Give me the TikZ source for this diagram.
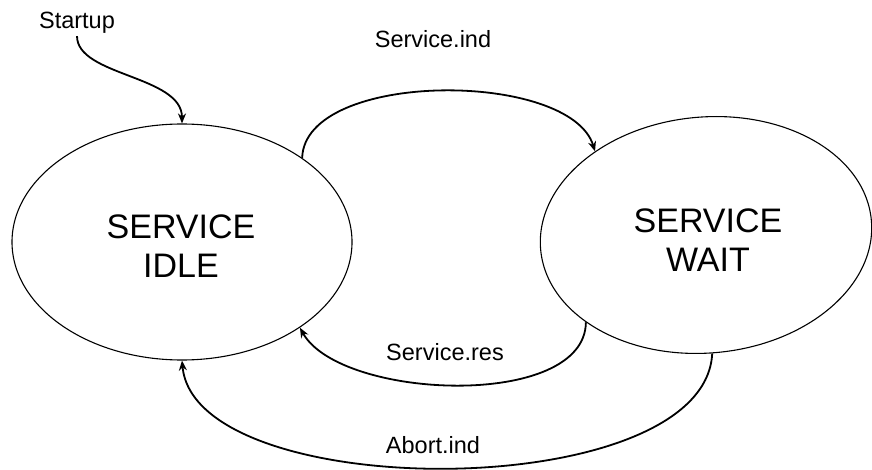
\documentclass[tikz,border=0pt]{standalone}
\usepackage{fontspec}
\setmainfont{Liberation Sans}
\usetikzlibrary{shapes.geometric,arrows.meta}
\begin{document}
\begin{tikzpicture}[x=1pt,y=-1pt,
  state/.style={draw, line width=1.1pt, ellipse, inner sep=0pt},
  statetext/.style={font=\fontsize{34}{39}\selectfont, align=center, inner sep=0pt},
  evlabel/.style={font=\fontsize{23.5}{28}\selectfont, inner sep=2pt},
  conn/.style={line width=1.8pt, -{Stealth[length=10pt,width=8pt]}}]
\useasboundingbox (0,0) rectangle (872,470);

% the two states
\node[state, minimum width=340pt, minimum height=236pt] (idle) at (182,242) {};
\node[statetext] (idletext) at (181,246) {SERVICE\\IDLE};
\node[state, minimum width=332pt, minimum height=236pt, rotate=5] (wait) at (706,235) {};
\node[statetext] (waittext) at (708,240) {SERVICE\\WAIT};

% event labels
\node[evlabel, anchor=base] (startup) at (77,29) {Startup};
\node[evlabel, anchor=base] (ind) at (433,48) {Service.ind};
\node[evlabel, anchor=base] (res) at (445,360) {Service.res};
\node[evlabel, anchor=base] (abort) at (433,453) {Abort.ind};

% transitions
\draw[conn] (startup.south) .. controls +(0,40) and +(0,-48) .. (idle.north);
\draw[conn] (idle.35) .. controls (305,70) and (570,70) .. (wait.138);
\draw[conn] (wait.-149) .. controls (585,410) and (340,400) .. (idle.-36);
\draw[conn] (wait.-92) .. controls (705,505) and (195,505) .. (idle.south);
\end{tikzpicture}
\end{document}
